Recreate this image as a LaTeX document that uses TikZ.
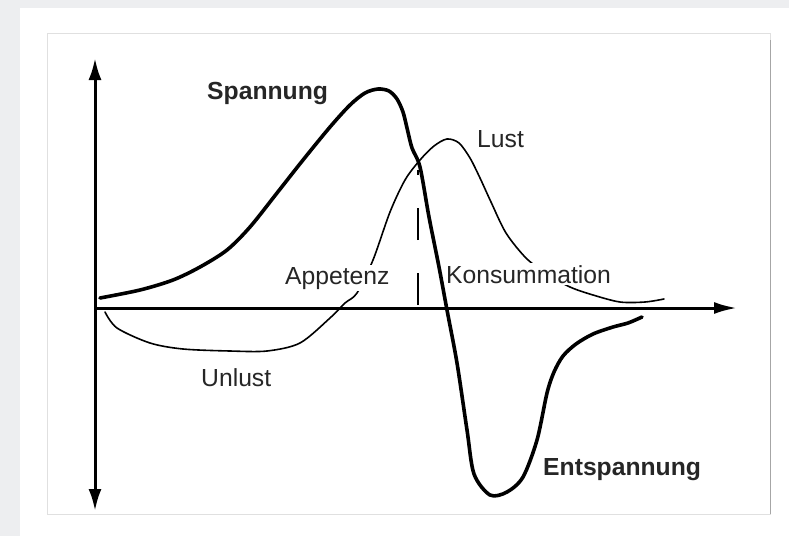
\documentclass[tikz,border=0pt]{standalone}
\usepackage{fontspec}
\setmainfont{Liberation Sans}
\usepackage{xcolor}
\usepackage{tikz}
\usetikzlibrary{arrows.meta}

\definecolor{pagegray}{RGB}{237,238,240}

\begin{document}
\begin{tikzpicture}[x=1pt,y=-1pt,
    curvetag/.style={anchor=base west,inner sep=2pt,fill=white,text=black!85,font=\fontsize{24.7}{28}\selectfont},
    boldtag/.style={curvetag,font=\fontsize{24.7}{28}\selectfont\bfseries},
    axisline/.style={line width=3pt},
    spancurve/.style={line width=3.6pt,line join=round,line cap=round},
    lustcurve/.style={line width=1.6pt,line join=round,line cap=round}]
    % page and frame
    \useasboundingbox (0,0) rectangle (789,536);
    \fill[pagegray] (0,0) rectangle (789,536);
    \fill[white] (20,8) rectangle (789,536);
    \draw[black!12,line width=0.8pt] (47,33) rectangle (770,514);
    \draw[black!35,line width=1pt] (770,40) -- (770,514);
    % axes points
    \coordinate (O) at (95,308);
    \coordinate (T) at (95,58);
    \coordinate (B) at (95,511);
    \coordinate (R) at (737,308);
    \coordinate (C) at (418,170);
    \coordinate (F) at (418,305);
    % Lust / Unlust
    \draw[lustcurve] plot[smooth] coordinates {(105,312) (117,328) (150,343) (183,349) (230,351) (267,351) (300,343) (330,318) (345,303) (357,293) (373,260) (390,212) (405,180) (420,160) (434,146) (447,139) (459,143) (470,158) (480,178) (491,202) (506,233) (526,258) (547,274) (570,287) (593,295) (620,302) (645,302) (664,299)};
    % labels
    \node[boldtag] (S) at (205,99) {Spannung};
    \node[curvetag] (L) at (475,147) {Lust};
    \node[curvetag] (A) at (283,284) {Appetenz};
    \node[curvetag] (K) at (444,283) {Konsummation};
    \node[curvetag] (U) at (199,386) {Unlust};
    \node[boldtag] (E) at (541,475) {Entspannung};
    % dashed marker
    \path [line width=1.5pt,dash pattern=on 32pt off 33pt](F) edge (C);
    % Spannung / Entspannung
    \draw[spancurve] plot[smooth] coordinates {(100,298) (140,290) (173,280) (200,267) (227,250) (250,227) (277,193) (303,160) (330,127) (350,105) (365,93) (378,89) (389,91) (397,99) (403,112) (407,128) (412,148) (420,167) (429,217) (439,267) (447,310) (457,363) (467,430) (474,474) (490,495) (507,492) (523,477) (537,440) (547,393) (554,372) (563,356) (576,344) (593,334) (613,327) (628,323) (642,317)};
    % axes
    \path [axisline,{Latex[length=22pt,width=13pt]}-{Latex[length=22pt,width=13pt]}](B) edge (T);
    \path [axisline,-{Latex[length=23pt,width=12pt]}](O) edge (R);
\end{tikzpicture}
\end{document}
